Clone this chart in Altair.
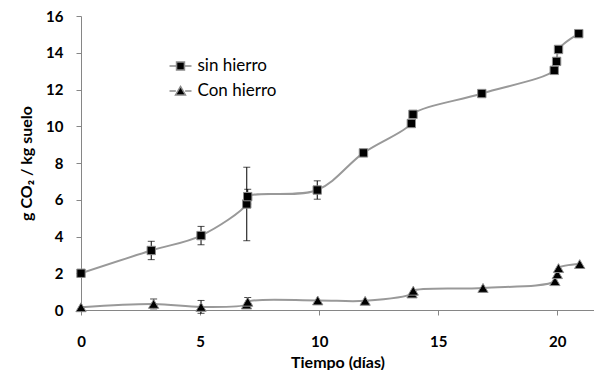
import altair as alt
import pandas as pd

# ---- data ----
series_names = ["sin hierro", "Con hierro"]

days_sin = [0, 2.95, 5.04, 6.96, 7.0, 9.92, 11.86, 13.87, 13.94, 16.83, 19.87, 19.97, 20.05, 20.9]
co2_sin = [2.0, 3.24, 4.05, 5.77, 6.17, 6.53, 8.55, 10.15, 10.65, 11.78, 13.04, 13.53, 14.18, 15.04]
err_sin = [0, 0.5, 0.5, 2.0, 0.4, 0.5, 0, 0, 0, 0, 0, 0, 0, 0]

days_con = [0, 3.05, 5.04, 6.95, 7.0, 9.94, 11.93, 13.9, 13.95, 16.88, 19.9, 20.0, 20.05, 20.94]
co2_con = [0.15, 0.33, 0.17, 0.3, 0.45, 0.52, 0.5, 0.9, 1.05, 1.2, 1.57, 1.95, 2.28, 2.5]
err_con = [0, 0.27, 0.35, 0, 0.23, 0, 0, 0, 0, 0, 0, 0, 0, 0]

x_ticks = [0, 5, 10, 15, 20]
y_ticks = [0, 2, 4, 6, 8, 10, 12, 14, 16]

rows = []
for name, xs, ys, es in [("sin hierro", days_sin, co2_sin, err_sin),
                         ("Con hierro", days_con, co2_con, err_con)]:
    for x, y, e in zip(xs, ys, es):
        rows.append({"serie": name, "dia": x, "co2": y, "err": e,
                     "lo": y - e, "hi": y + e})
df = pd.DataFrame(rows)

AX = "#868686"
MK = "#8c8c8c"
FONT = "Lato"

x_scale = alt.Scale(domain=[0, 21.54], nice=False, zero=False)
y_scale = alt.Scale(domain=[0, 16], nice=False)

x_axis = alt.Axis(values=x_ticks, title="Tiempo (días)", grid=False, tickSize=5,
                  labelPadding=19, titlePadding=5, labelFontSize=15, labelFont=FONT,
                  labelFontWeight="bold", titleFontSize=16, titleFont=FONT,
                  titleFontWeight="bold", domainColor=AX, tickColor=AX,
                  labelColor="black", titleColor="black", labelFlush=False)
y_axis = alt.Axis(values=y_ticks, title="g CO₂ / kg suelo", grid=False, tickSize=5,
                  labelPadding=13, titlePadding=11, labelFontSize=15, labelFont=FONT,
                  labelFontWeight="bold", titleFontSize=16, titleFont=FONT,
                  titleFontWeight="bold", domainColor=AX, tickColor=AX,
                  labelColor="black", titleColor="black")

X = alt.X("dia:Q", scale=x_scale, axis=x_axis)
Y = alt.Y("co2:Q", scale=y_scale, axis=y_axis)

base = alt.Chart(df)

line = base.mark_line(color="#999999", strokeWidth=2, interpolate="catmull-rom").encode(
    x=X, y=Y, detail="serie:N")

err = base.transform_filter("datum.err > 0").mark_errorbar(
    ticks={"size": 7}, color="black", thickness=1).encode(
    x=X, y=alt.Y("lo:Q", scale=y_scale, axis=y_axis), y2="hi:Q")

sq = base.transform_filter("datum.serie == 'sin hierro'").mark_point(
    shape="square", filled=True, fill="black", stroke=MK, strokeWidth=1,
    size=70, opacity=1).encode(x=X, y=Y)

tri = base.transform_filter("datum.serie == 'Con hierro'").mark_point(
    shape="triangle-up", filled=True, fill="black", stroke=MK, strokeWidth=1,
    size=105, opacity=1).encode(x=X, y=Y)

path_sq = "M-1,0H-0.36M0.36,0H1M-0.36,-0.36H0.36V0.36H-0.36Z"
path_tri = "M-1,0H-0.42M0.42,0H1M0,-0.42L0.45,0.36L-0.45,0.36Z"

legend_def = alt.Legend(title=None, orient="none", legendX=87.5, legendY=38,
                        symbolSize=484, symbolStrokeWidth=1.5,
                        labelFontSize=17, labelFont=FONT, labelColor="black",
                        rowPadding=5, padding=0, offset=0, labelOffset=5)

leg = base.transform_filter("datum.dia < -100").mark_point(
    filled=True, strokeWidth=1.5, opacity=1).encode(
    x=X, y=Y,
    shape=alt.Shape("serie:N",
                    scale=alt.Scale(domain=series_names, range=[path_sq, path_tri]),
                    legend=legend_def),
    fill=alt.Fill("serie:N",
                  scale=alt.Scale(domain=series_names, range=["black", "black"]),
                  legend=legend_def),
    stroke=alt.Stroke("serie:N",
                      scale=alt.Scale(domain=series_names, range=[MK, MK]),
                      legend=legend_def),
)

chart = alt.layer(line, err, sq, tri, leg).properties(
    width=513, height=294,
    padding={"left": 10, "top": 1, "right": 0, "bottom": 0},
    background="white",
).configure_view(stroke=None)

chart.save("out.html", embed_options={"renderer": "svg", "actions": False})
